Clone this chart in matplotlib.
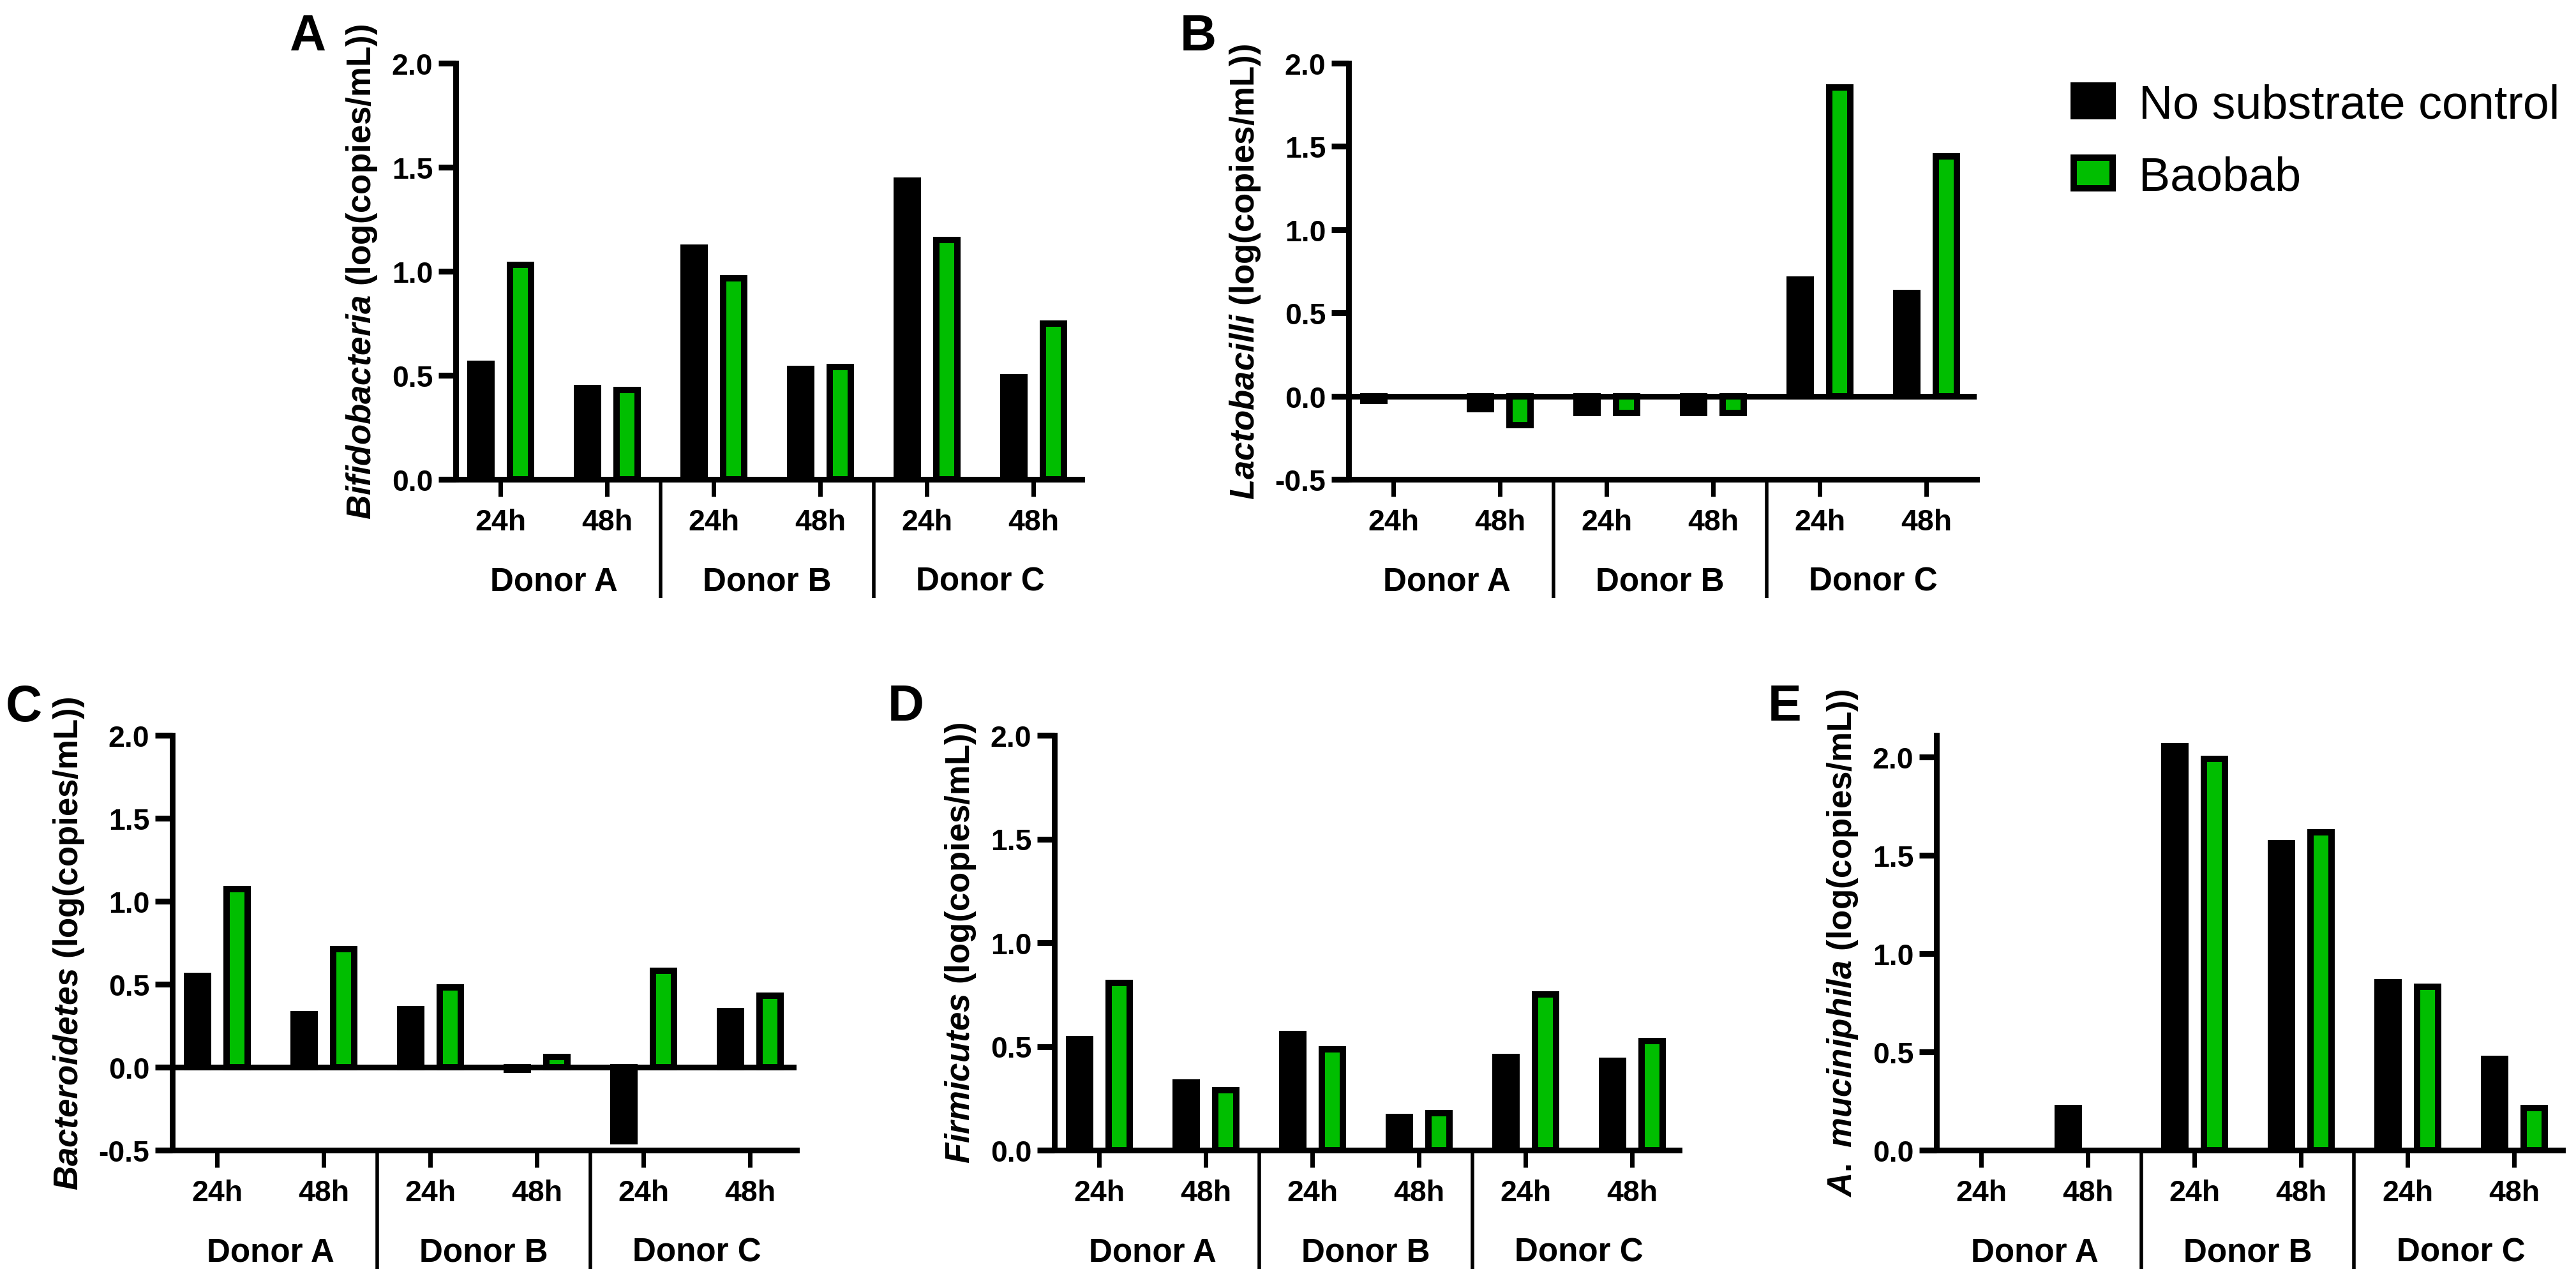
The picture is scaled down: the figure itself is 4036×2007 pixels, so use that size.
import matplotlib
matplotlib.use("Agg")
import matplotlib.pyplot as plt
from matplotlib.patches import Patch
from matplotlib.ticker import FixedLocator, FormatStrFormatter
import numpy as np

plt.rcParams['font.family'] = ['Liberation Sans', 'DejaVu Sans']
plt.rcParams['axes.unicode_minus'] = False
plt.rcParams['mathtext.fontset'] = 'custom'
plt.rcParams['mathtext.it'] = 'Liberation Sans:italic:bold'
plt.rcParams['mathtext.rm'] = 'Liberation Sans:bold'
plt.rcParams['mathtext.bf'] = 'Liberation Sans:bold'

# ---------------- data ----------------
time_labels = ['24h', '48h', '24h', '48h', '24h', '48h']
donor_labels = ['Donor A', 'Donor B', 'Donor C']
series_names = ['No substrate control', 'Baobab']

bifido_ctrl = [0.555, 0.44, 1.115, 0.53, 1.435, 0.49]
bifido_baobab = [1.03, 0.43, 0.965, 0.54, 1.15, 0.75]

lacto_ctrl = [-0.03, -0.08, -0.10, -0.10, 0.70, 0.62]
lacto_baobab = [0.0, -0.175, -0.10, -0.10, 1.855, 1.44]

bactero_ctrl = [0.55, 0.32, 0.35, -0.015, -0.445, 0.34]
bactero_baobab = [1.075, 0.71, 0.48, 0.06, 0.58, 0.43]

firmi_ctrl = [0.535, 0.325, 0.56, 0.16, 0.45, 0.43]
firmi_baobab = [0.805, 0.29, 0.485, 0.18, 0.75, 0.525]

akk_ctrl = [0.0, 0.215, 2.055, 1.56, 0.855, 0.465]
akk_baobab = [0.0, 0.0, 1.99, 1.615, 0.83, 0.215]

# ---------------- style ----------------
W, H, DPI = 4036, 2008, 200
GREEN = '#00BE00'
SPINE_LW = 3.2
EDGE_LW = 3.6
SEP_LW = 2.0
TICK_FS = 16.7
DONOR_FS = 18.4
YLAB_FS = 19
PANEL_FS = 28.5
LEG_FS = 26.5
BAR_W = 0.198
OFF_C = -0.18
OFF_B = 0.19
TICK_SP = 167.0   # pixels per category
LEFT_PAD = 70.0   # pixels from y axis to first tick

fig = plt.figure(figsize=(W / DPI, H / DPI), dpi=DPI)

panels = [
    # key, left, top, right, bottom (px), ylim, ylabel, ctrl, baobab, zero line
    ('A', 714, 100, 1695, 752, (0, 2.0), r'$\mathit{Bifidobacteria}$ (log(copies/mL))',
     bifido_ctrl, bifido_baobab, False),
    ('B', 2113, 100, 3097, 752, (-0.5, 2.0), r'$\mathit{Lactobacilli}$ (log(copies/mL))',
     lacto_ctrl, lacto_baobab, True),
    ('C', 270, 1153, 1248, 1803, (-0.5, 2.0), r'$\mathit{Bacteroidetes}$ (log(copies/mL))',
     bactero_ctrl, bactero_baobab, True),
    ('D', 1652, 1153, 2631, 1803, (0, 2.0), r'$\mathit{Firmicutes}$ (log(copies/mL))',
     firmi_ctrl, firmi_baobab, False),
    ('E', 3034, 1153, 4015, 1803, (0, 2.11), r'$\mathit{A.\ muciniphila}$ (log(copies/mL))',
     akk_ctrl, akk_baobab, False),
]

letter_pos = {'A': (453, 79), 'B': (1849, 79), 'C': (9, 1130), 'D': (1391, 1129), 'E': (2770, 1129)}

x = np.arange(len(time_labels))


def edge_widths(vals):
    return [EDGE_LW if v != 0 else 0.0 for v in vals]


for key, l, t, r, b, ylim, ylabel, ctrl, bao, zero in panels:
    ax = fig.add_axes([l / W, 1 - b / H, (r - l) / W, (b - t) / H])
    width_px = r - l
    ax.set_xlim(-LEFT_PAD / TICK_SP, (width_px - LEFT_PAD) / TICK_SP)
    ax.set_ylim(*ylim)

    ax.bar(x + OFF_C, ctrl, width=BAR_W, color='black', edgecolor='black',
           linewidth=edge_widths(ctrl), zorder=2)
    ax.bar(x + OFF_B, bao, width=BAR_W, color=GREEN, edgecolor='black',
           linewidth=edge_widths(bao), zorder=2)
    if zero:
        ax.axhline(0, color='black', lw=SPINE_LW, zorder=3)

    for s in ['top', 'right']:
        ax.spines[s].set_visible(False)
    for s in ['left', 'bottom']:
        ax.spines[s].set_linewidth(SPINE_LW)
        ax.spines[s].set_zorder(4)

    yt = np.arange(ylim[0], 2.0001, 0.5)
    ax.yaxis.set_major_locator(FixedLocator(yt))
    ax.yaxis.set_major_formatter(FormatStrFormatter('%.1f'))
    ax.set_xticks(x)
    ax.set_xticklabels(time_labels)
    ax.tick_params(axis='y', direction='out', length=9.7, width=3.3, pad=3.2,
                   labelsize=TICK_FS)
    ax.tick_params(axis='x', direction='out', length=9.7, width=2.5, pad=6.5,
                   labelsize=TICK_FS)
    for lab in ax.get_xticklabels() + ax.get_yticklabels():
        lab.set_fontweight('bold')

    ax.set_ylabel(ylabel, fontsize=YLAB_FS, fontweight='bold', labelpad=7)

    trans = ax.get_xaxis_transform()
    sep_len = -186.0 / (b - t)
    for sx in [1.5, 3.5]:
        ax.plot([sx, sx], [0, sep_len], transform=trans, color='black',
                lw=SEP_LW, clip_on=False, solid_capstyle='butt')
    for i, dl in enumerate(donor_labels):
        ax.annotate(dl, xy=(2 * i + 0.5, 0), xycoords=trans,
                    xytext=(0, -62.3), textcoords='offset points',
                    ha='center', va='baseline', fontsize=DONOR_FS,
                    fontweight='bold', annotation_clip=False)

    lx, ly = letter_pos[key]
    fig.text(lx / W, 1 - ly / H, key, fontsize=PANEL_FS, fontweight='bold',
             ha='left', va='baseline')

handles = [Patch(facecolor='black', edgecolor='black', linewidth=EDGE_LW),
           Patch(facecolor=GREEN, edgecolor='black', linewidth=EDGE_LW)]
fig.legend(handles, series_names, loc='upper left',
           bbox_to_anchor=(3249 / W, 1 - 131 / H), bbox_transform=fig.transFigure,
           frameon=False, fontsize=LEG_FS, handlelength=0.83, handleheight=0.625,
           handletextpad=0.56, labelspacing=0.6, borderpad=0, borderaxespad=0)

fig.savefig('out.png', dpi=DPI)
